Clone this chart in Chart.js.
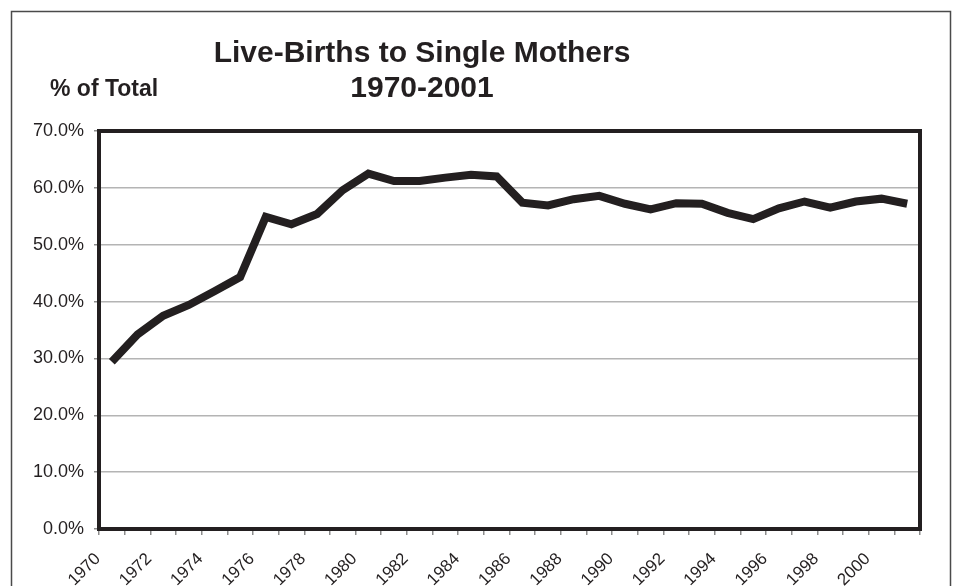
<!DOCTYPE html>
<html>
<head>
<meta charset="utf-8">
<script src="https://cdn.jsdelivr.net/npm/chart.js@4/dist/chart.umd.min.js"></script>
<style>
	html, body { margin: 0; padding: 0; background: #ffffff; }
	#wrap { width: 953px; height: 586px; position: relative; }
</style>
</head>
<body>
<div id="wrap"><canvas id="births"></canvas></div>
<script>
//
// Données.
//
const years = [ "1970", "1971", "1972", "1973", "1974", "1975", "1976", "1977", "1978", "1979",
	"1980", "1981", "1982", "1983", "1984", "1985", "1986", "1987", "1988", "1989",
	"1990", "1991", "1992", "1993", "1994", "1995", "1996", "1997", "1998", "1999",
	"2000", "2001" ];

// Part des naissances vivantes chez les mères célibataires (en %).
const single_mothers = [ 29.4, 34.2, 37.5, 39.4, 41.8, 44.3, 54.9, 53.6, 55.4, 59.6,
	62.5, 61.2, 61.2, 61.8, 62.3, 62.0, 57.4, 56.9, 58.0, 58.6,
	57.2, 56.2, 57.3, 57.2, 55.6, 54.5, 56.4, 57.6, 56.5, 57.6,
	58.1, 57.2 ];

const title_lines = [ "Live-Births to Single Mothers", "1970-2001" ];
const axis_caption = "% of Total";

const ink = "#231f20";										// Couleur du texte et du tracé.
const font_family = "'Liberation Sans', Arial, sans-serif";

//
// Extension : fond blanc, cadre extérieur, cadre de la zone de tracé et titres.
//
const frame_plugin = {
	id: "frame_plugin",
	beforeDraw( chart )
	{
		const ctx = chart.ctx;

		ctx.save();
		ctx.fillStyle = "#ffffff";
		ctx.fillRect( 0, 0, chart.width, chart.height );

		// Cadre extérieur (coupé en bas comme sur l'original).
		ctx.strokeStyle = "#4a4a4a";
		ctx.lineWidth = 1.5;
		ctx.strokeRect( 11.5, 11.5, 939, 620 );
		ctx.restore();
	},
	afterDraw( chart )
	{
		const ctx = chart.ctx;
		const area = chart.chartArea;

		ctx.save();

		// Cadre épais autour de la zone de tracé.
		ctx.strokeStyle = ink;
		ctx.lineWidth = 4;
		ctx.strokeRect( area.left, area.top, area.right - area.left, area.bottom - area.top );

		// Titre sur deux lignes.
		ctx.fillStyle = ink;
		ctx.textAlign = "center";
		ctx.textBaseline = "alphabetic";
		ctx.font = "bold 30px " + font_family;
		ctx.fillText( title_lines[ 0 ], 422, 62 );
		ctx.fillText( title_lines[ 1 ], 422, 97 );

		// Légende de l'axe Y.
		ctx.textAlign = "left";
		ctx.font = "bold 23px " + font_family;
		ctx.fillText( axis_caption, 50, 96 );

		ctx.restore();
	}
};

new Chart( document.getElementById( "births" ),
	{
		type: "line",
		data: {
			labels: years,
			datasets: [
				{
					data: single_mothers,
					borderColor: ink,
					borderWidth: 8,
					borderJoinStyle: "miter",
					pointRadius: 0,
					tension: 0,
					fill: false
				}
			]
		},
		options: {
			responsive: true,
			maintainAspectRatio: false,
			animation: false,
			layout: {
				padding: { top: 131, right: 33, bottom: 0, left: 0 }
			},
			plugins: {
				legend: { display: false },
				tooltip: { enabled: false }
			},
			scales: {
				x: {
					// Axe X : années, une étiquette sur deux.
					offset: true,
					afterFit( scale ) { scale.height = 57; },
					border: { display: false },
					grid: {
						offset: true,
						drawOnChartArea: false,
						drawTicks: true,
						tickLength: 6,
						color: "#8c8c8c",
						lineWidth: 1.5
					},
					ticks: {
						autoSkip: false,
						minRotation: 45,
						maxRotation: 45,
						padding: 14,
						labelOffset: -14,
						color: ink,
						font: { size: 17, family: font_family },
						callback: function( value, index )
						{
							return index % 2 === 0 ? this.getLabelForValue( value ) : "";
						}
					}
				},
				y: {
					// Axe Y : pourcentage compris entre 0 et 70 %.
					min: 0,
					max: 70,
					afterFit( scale ) { scale.width = 99; },
					border: { display: false },
					grid: {
						color: "#b4b4b4",
						lineWidth: 1.5,
						tickLength: 5,
						tickColor: "#8c8c8c"
					},
					ticks: {
						stepSize: 10,
						padding: 10,
						color: ink,
						font: { size: 18, family: font_family },
						callback: ( value ) => value.toFixed( 1 ) + "%"
					}
				}
			}
		},
		plugins: [ frame_plugin ]
	} );
</script>
</body>
</html>
